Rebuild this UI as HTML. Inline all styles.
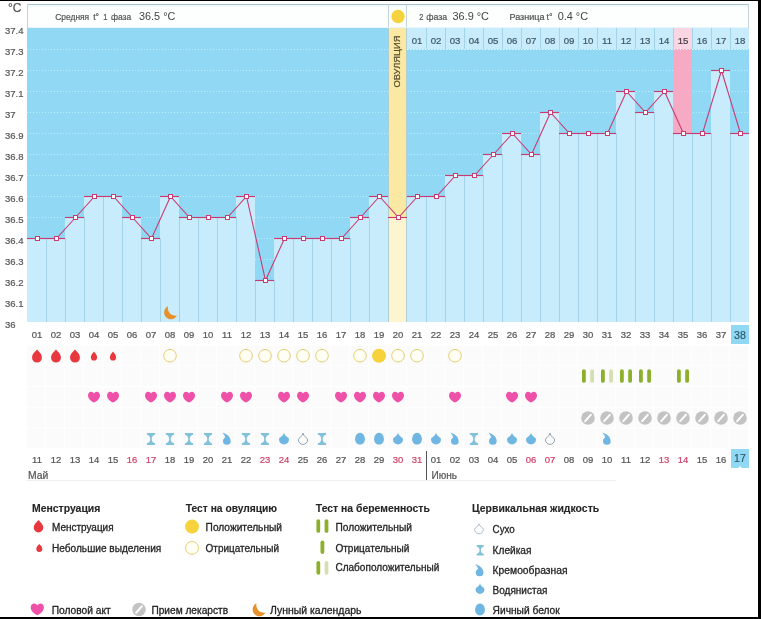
<!DOCTYPE html>
<html><head><meta charset="utf-8"><style>
html,body{margin:0;padding:0;background:#fff;width:761px;height:619px;overflow:hidden;font-family:"Liberation Sans",sans-serif;}
</style></head><body>
<svg width="761" height="619" viewBox="0 0 761 619" style="position:absolute;left:0;top:0;will-change:transform" font-family="'Liberation Sans', sans-serif">
<rect x="27" y="28" width="722" height="294" fill="#90d8f3"/>
<line x1="27" y1="49.5" x2="749" y2="49.5" stroke="#b8f0fd" stroke-width="1" stroke-dasharray="1 2"/>
<line x1="27" y1="70.5" x2="749" y2="70.5" stroke="#b8f0fd" stroke-width="1" stroke-dasharray="1 2"/>
<line x1="27" y1="91.5" x2="749" y2="91.5" stroke="#b8f0fd" stroke-width="1" stroke-dasharray="1 2"/>
<line x1="27" y1="112.5" x2="749" y2="112.5" stroke="#b8f0fd" stroke-width="1" stroke-dasharray="1 2"/>
<line x1="27" y1="133.5" x2="749" y2="133.5" stroke="#b8f0fd" stroke-width="1" stroke-dasharray="1 2"/>
<line x1="27" y1="154.5" x2="749" y2="154.5" stroke="#b8f0fd" stroke-width="1" stroke-dasharray="1 2"/>
<line x1="27" y1="175.5" x2="749" y2="175.5" stroke="#b8f0fd" stroke-width="1" stroke-dasharray="1 2"/>
<line x1="27" y1="196.5" x2="749" y2="196.5" stroke="#b8f0fd" stroke-width="1" stroke-dasharray="1 2"/>
<line x1="27" y1="217.5" x2="749" y2="217.5" stroke="#b8f0fd" stroke-width="1" stroke-dasharray="1 2"/>
<line x1="27" y1="238.5" x2="749" y2="238.5" stroke="#b8f0fd" stroke-width="1" stroke-dasharray="1 2"/>
<line x1="27" y1="259.5" x2="749" y2="259.5" stroke="#b8f0fd" stroke-width="1" stroke-dasharray="1 2"/>
<line x1="27" y1="280.5" x2="749" y2="280.5" stroke="#b8f0fd" stroke-width="1" stroke-dasharray="1 2"/>
<line x1="27" y1="301.5" x2="749" y2="301.5" stroke="#b8f0fd" stroke-width="1" stroke-dasharray="1 2"/>
<rect x="27" y="238" width="19" height="84" fill="#c9ecfc"/>
<rect x="46" y="238" width="19" height="84" fill="#c9ecfc"/>
<rect x="65" y="217" width="19" height="105" fill="#c9ecfc"/>
<rect x="84" y="196" width="19" height="126" fill="#c9ecfc"/>
<rect x="103" y="196" width="19" height="126" fill="#c9ecfc"/>
<rect x="122" y="217" width="19" height="105" fill="#c9ecfc"/>
<rect x="141" y="238" width="19" height="84" fill="#c9ecfc"/>
<rect x="160" y="196" width="19" height="126" fill="#c9ecfc"/>
<rect x="179" y="217" width="19" height="105" fill="#c9ecfc"/>
<rect x="198" y="217" width="19" height="105" fill="#c9ecfc"/>
<rect x="217" y="217" width="19" height="105" fill="#c9ecfc"/>
<rect x="236" y="196" width="19" height="126" fill="#c9ecfc"/>
<rect x="255" y="280" width="19" height="42" fill="#c9ecfc"/>
<rect x="274" y="238" width="19" height="84" fill="#c9ecfc"/>
<rect x="293" y="238" width="19" height="84" fill="#c9ecfc"/>
<rect x="312" y="238" width="19" height="84" fill="#c9ecfc"/>
<rect x="331" y="238" width="19" height="84" fill="#c9ecfc"/>
<rect x="350" y="217" width="19" height="105" fill="#c9ecfc"/>
<rect x="369" y="196" width="19" height="126" fill="#c9ecfc"/>
<rect x="388" y="28" width="19" height="189" fill="#fbe8a2"/>
<rect x="388" y="217" width="19" height="105" fill="#fdf5d0"/>
<rect x="407" y="196" width="19" height="126" fill="#c9ecfc"/>
<rect x="426" y="196" width="19" height="126" fill="#c9ecfc"/>
<rect x="445" y="175" width="19" height="147" fill="#c9ecfc"/>
<rect x="464" y="175" width="19" height="147" fill="#c9ecfc"/>
<rect x="483" y="154" width="19" height="168" fill="#c9ecfc"/>
<rect x="502" y="133" width="19" height="189" fill="#c9ecfc"/>
<rect x="521" y="154" width="19" height="168" fill="#c9ecfc"/>
<rect x="540" y="112" width="19" height="210" fill="#c9ecfc"/>
<rect x="559" y="133" width="19" height="189" fill="#c9ecfc"/>
<rect x="578" y="133" width="19" height="189" fill="#c9ecfc"/>
<rect x="597" y="133" width="19" height="189" fill="#c9ecfc"/>
<rect x="616" y="91" width="19" height="231" fill="#c9ecfc"/>
<rect x="635" y="112" width="19" height="210" fill="#c9ecfc"/>
<rect x="654" y="91" width="19" height="231" fill="#c9ecfc"/>
<rect x="673" y="49" width="19" height="84" fill="#f6aac3"/>
<rect x="673" y="133" width="19" height="189" fill="#c9ecfc"/>
<rect x="692" y="133" width="19" height="189" fill="#c9ecfc"/>
<rect x="711" y="70" width="19" height="252" fill="#c9ecfc"/>
<rect x="730" y="133" width="19" height="189" fill="#c9ecfc"/>
<line x1="46.5" y1="238" x2="46.5" y2="322" stroke="#a3d3e8" stroke-width="1"/>
<line x1="65.5" y1="238" x2="65.5" y2="322" stroke="#a3d3e8" stroke-width="1"/>
<line x1="84.5" y1="217" x2="84.5" y2="322" stroke="#a3d3e8" stroke-width="1"/>
<line x1="103.5" y1="196" x2="103.5" y2="322" stroke="#a3d3e8" stroke-width="1"/>
<line x1="122.5" y1="217" x2="122.5" y2="322" stroke="#a3d3e8" stroke-width="1"/>
<line x1="141.5" y1="238" x2="141.5" y2="322" stroke="#a3d3e8" stroke-width="1"/>
<line x1="160.5" y1="238" x2="160.5" y2="322" stroke="#a3d3e8" stroke-width="1"/>
<line x1="179.5" y1="217" x2="179.5" y2="322" stroke="#a3d3e8" stroke-width="1"/>
<line x1="198.5" y1="217" x2="198.5" y2="322" stroke="#a3d3e8" stroke-width="1"/>
<line x1="217.5" y1="217" x2="217.5" y2="322" stroke="#a3d3e8" stroke-width="1"/>
<line x1="236.5" y1="217" x2="236.5" y2="322" stroke="#a3d3e8" stroke-width="1"/>
<line x1="255.5" y1="280" x2="255.5" y2="322" stroke="#a3d3e8" stroke-width="1"/>
<line x1="274.5" y1="280" x2="274.5" y2="322" stroke="#a3d3e8" stroke-width="1"/>
<line x1="293.5" y1="238" x2="293.5" y2="322" stroke="#a3d3e8" stroke-width="1"/>
<line x1="312.5" y1="238" x2="312.5" y2="322" stroke="#a3d3e8" stroke-width="1"/>
<line x1="331.5" y1="238" x2="331.5" y2="322" stroke="#a3d3e8" stroke-width="1"/>
<line x1="350.5" y1="238" x2="350.5" y2="322" stroke="#a3d3e8" stroke-width="1"/>
<line x1="369.5" y1="217" x2="369.5" y2="322" stroke="#a3d3e8" stroke-width="1"/>
<line x1="426.5" y1="196" x2="426.5" y2="322" stroke="#a3d3e8" stroke-width="1"/>
<line x1="445.5" y1="196" x2="445.5" y2="322" stroke="#a3d3e8" stroke-width="1"/>
<line x1="464.5" y1="175" x2="464.5" y2="322" stroke="#a3d3e8" stroke-width="1"/>
<line x1="483.5" y1="175" x2="483.5" y2="322" stroke="#a3d3e8" stroke-width="1"/>
<line x1="502.5" y1="154" x2="502.5" y2="322" stroke="#a3d3e8" stroke-width="1"/>
<line x1="521.5" y1="154" x2="521.5" y2="322" stroke="#a3d3e8" stroke-width="1"/>
<line x1="540.5" y1="154" x2="540.5" y2="322" stroke="#a3d3e8" stroke-width="1"/>
<line x1="559.5" y1="133" x2="559.5" y2="322" stroke="#a3d3e8" stroke-width="1"/>
<line x1="578.5" y1="133" x2="578.5" y2="322" stroke="#a3d3e8" stroke-width="1"/>
<line x1="597.5" y1="133" x2="597.5" y2="322" stroke="#a3d3e8" stroke-width="1"/>
<line x1="616.5" y1="133" x2="616.5" y2="322" stroke="#a3d3e8" stroke-width="1"/>
<line x1="635.5" y1="112" x2="635.5" y2="322" stroke="#a3d3e8" stroke-width="1"/>
<line x1="654.5" y1="112" x2="654.5" y2="322" stroke="#a3d3e8" stroke-width="1"/>
<line x1="673.5" y1="133" x2="673.5" y2="322" stroke="#a3d3e8" stroke-width="1"/>
<line x1="692.5" y1="133" x2="692.5" y2="322" stroke="#a3d3e8" stroke-width="1"/>
<line x1="711.5" y1="133" x2="711.5" y2="322" stroke="#a3d3e8" stroke-width="1"/>
<line x1="730.5" y1="133" x2="730.5" y2="322" stroke="#a3d3e8" stroke-width="1"/>
<line x1="388.5" y1="28" x2="388.5" y2="322" stroke="#b2cdd2" stroke-width="1"/>
<line x1="406.5" y1="28" x2="406.5" y2="322" stroke="#b2cdd2" stroke-width="1"/>
<rect x="407" y="28" width="19" height="21" fill="#c9ecfc"/>
<text x="417.0" y="44" font-size="9.6" fill="#3e5868" text-anchor="middle" stroke="#3e5868" stroke-width="0.22">01</text>
<rect x="426" y="28" width="19" height="21" fill="#c9ecfc"/>
<line x1="426.5" y1="28" x2="426.5" y2="49" stroke="#a3d3e8" stroke-width="1"/>
<text x="436.0" y="44" font-size="9.6" fill="#3e5868" text-anchor="middle" stroke="#3e5868" stroke-width="0.22">02</text>
<rect x="445" y="28" width="19" height="21" fill="#c9ecfc"/>
<line x1="445.5" y1="28" x2="445.5" y2="49" stroke="#a3d3e8" stroke-width="1"/>
<text x="455.0" y="44" font-size="9.6" fill="#3e5868" text-anchor="middle" stroke="#3e5868" stroke-width="0.22">03</text>
<rect x="464" y="28" width="19" height="21" fill="#c9ecfc"/>
<line x1="464.5" y1="28" x2="464.5" y2="49" stroke="#a3d3e8" stroke-width="1"/>
<text x="474.0" y="44" font-size="9.6" fill="#3e5868" text-anchor="middle" stroke="#3e5868" stroke-width="0.22">04</text>
<rect x="483" y="28" width="19" height="21" fill="#c9ecfc"/>
<line x1="483.5" y1="28" x2="483.5" y2="49" stroke="#a3d3e8" stroke-width="1"/>
<text x="493.0" y="44" font-size="9.6" fill="#3e5868" text-anchor="middle" stroke="#3e5868" stroke-width="0.22">05</text>
<rect x="502" y="28" width="19" height="21" fill="#c9ecfc"/>
<line x1="502.5" y1="28" x2="502.5" y2="49" stroke="#a3d3e8" stroke-width="1"/>
<text x="512.0" y="44" font-size="9.6" fill="#3e5868" text-anchor="middle" stroke="#3e5868" stroke-width="0.22">06</text>
<rect x="521" y="28" width="19" height="21" fill="#c9ecfc"/>
<line x1="521.5" y1="28" x2="521.5" y2="49" stroke="#a3d3e8" stroke-width="1"/>
<text x="531.0" y="44" font-size="9.6" fill="#3e5868" text-anchor="middle" stroke="#3e5868" stroke-width="0.22">07</text>
<rect x="540" y="28" width="19" height="21" fill="#c9ecfc"/>
<line x1="540.5" y1="28" x2="540.5" y2="49" stroke="#a3d3e8" stroke-width="1"/>
<text x="550.0" y="44" font-size="9.6" fill="#3e5868" text-anchor="middle" stroke="#3e5868" stroke-width="0.22">08</text>
<rect x="559" y="28" width="19" height="21" fill="#c9ecfc"/>
<line x1="559.5" y1="28" x2="559.5" y2="49" stroke="#a3d3e8" stroke-width="1"/>
<text x="569.0" y="44" font-size="9.6" fill="#3e5868" text-anchor="middle" stroke="#3e5868" stroke-width="0.22">09</text>
<rect x="578" y="28" width="19" height="21" fill="#c9ecfc"/>
<line x1="578.5" y1="28" x2="578.5" y2="49" stroke="#a3d3e8" stroke-width="1"/>
<text x="588.0" y="44" font-size="9.6" fill="#3e5868" text-anchor="middle" stroke="#3e5868" stroke-width="0.22">10</text>
<rect x="597" y="28" width="19" height="21" fill="#c9ecfc"/>
<line x1="597.5" y1="28" x2="597.5" y2="49" stroke="#a3d3e8" stroke-width="1"/>
<text x="607.0" y="44" font-size="9.6" fill="#3e5868" text-anchor="middle" stroke="#3e5868" stroke-width="0.22">11</text>
<rect x="616" y="28" width="19" height="21" fill="#c9ecfc"/>
<line x1="616.5" y1="28" x2="616.5" y2="49" stroke="#a3d3e8" stroke-width="1"/>
<text x="626.0" y="44" font-size="9.6" fill="#3e5868" text-anchor="middle" stroke="#3e5868" stroke-width="0.22">12</text>
<rect x="635" y="28" width="19" height="21" fill="#c9ecfc"/>
<line x1="635.5" y1="28" x2="635.5" y2="49" stroke="#a3d3e8" stroke-width="1"/>
<text x="645.0" y="44" font-size="9.6" fill="#3e5868" text-anchor="middle" stroke="#3e5868" stroke-width="0.22">13</text>
<rect x="654" y="28" width="19" height="21" fill="#c9ecfc"/>
<line x1="654.5" y1="28" x2="654.5" y2="49" stroke="#a3d3e8" stroke-width="1"/>
<text x="664.0" y="44" font-size="9.6" fill="#3e5868" text-anchor="middle" stroke="#3e5868" stroke-width="0.22">14</text>
<rect x="673" y="28" width="19" height="21" fill="#f9d6e2"/>
<line x1="673.5" y1="28" x2="673.5" y2="49" stroke="#a3d3e8" stroke-width="1"/>
<text x="683.0" y="44" font-size="9.6" fill="#4a3c46" text-anchor="middle" stroke="#4a3c46" stroke-width="0.22">15</text>
<rect x="692" y="28" width="19" height="21" fill="#c9ecfc"/>
<line x1="692.5" y1="28" x2="692.5" y2="49" stroke="#a3d3e8" stroke-width="1"/>
<text x="702.0" y="44" font-size="9.6" fill="#3e5868" text-anchor="middle" stroke="#3e5868" stroke-width="0.22">16</text>
<rect x="711" y="28" width="19" height="21" fill="#c9ecfc"/>
<line x1="711.5" y1="28" x2="711.5" y2="49" stroke="#a3d3e8" stroke-width="1"/>
<text x="721.0" y="44" font-size="9.6" fill="#3e5868" text-anchor="middle" stroke="#3e5868" stroke-width="0.22">17</text>
<rect x="730" y="28" width="19" height="21" fill="#c9ecfc"/>
<line x1="730.5" y1="28" x2="730.5" y2="49" stroke="#a3d3e8" stroke-width="1"/>
<text x="740.0" y="44" font-size="9.6" fill="#3e5868" text-anchor="middle" stroke="#3e5868" stroke-width="0.22">18</text>
<line x1="407" y1="49.5" x2="749" y2="49.5" stroke="#e6f7fd" stroke-width="1" stroke-dasharray="1 2"/>
<text transform="translate(400.4,61.6) rotate(-90)" font-size="9" fill="#5b5135" text-anchor="middle" textLength="52" lengthAdjust="spacingAndGlyphs" stroke="#5b5135" stroke-width="0.22">ОВУЛЯЦИЯ</text>
<line x1="27" y1="238.5" x2="46" y2="238.5" stroke="#c83c72" stroke-width="1.15"/>
<line x1="46" y1="238.5" x2="65" y2="238.5" stroke="#c83c72" stroke-width="1.15"/>
<line x1="65" y1="217.5" x2="84" y2="217.5" stroke="#c83c72" stroke-width="1.15"/>
<line x1="84" y1="196.5" x2="103" y2="196.5" stroke="#c83c72" stroke-width="1.15"/>
<line x1="103" y1="196.5" x2="122" y2="196.5" stroke="#c83c72" stroke-width="1.15"/>
<line x1="122" y1="217.5" x2="141" y2="217.5" stroke="#c83c72" stroke-width="1.15"/>
<line x1="141" y1="238.5" x2="160" y2="238.5" stroke="#c83c72" stroke-width="1.15"/>
<line x1="160" y1="196.5" x2="179" y2="196.5" stroke="#c83c72" stroke-width="1.15"/>
<line x1="179" y1="217.5" x2="198" y2="217.5" stroke="#c83c72" stroke-width="1.15"/>
<line x1="198" y1="217.5" x2="217" y2="217.5" stroke="#c83c72" stroke-width="1.15"/>
<line x1="217" y1="217.5" x2="236" y2="217.5" stroke="#c83c72" stroke-width="1.15"/>
<line x1="236" y1="196.5" x2="255" y2="196.5" stroke="#c83c72" stroke-width="1.15"/>
<line x1="255" y1="280.5" x2="274" y2="280.5" stroke="#c83c72" stroke-width="1.15"/>
<line x1="274" y1="238.5" x2="293" y2="238.5" stroke="#c83c72" stroke-width="1.15"/>
<line x1="293" y1="238.5" x2="312" y2="238.5" stroke="#c83c72" stroke-width="1.15"/>
<line x1="312" y1="238.5" x2="331" y2="238.5" stroke="#c83c72" stroke-width="1.15"/>
<line x1="331" y1="238.5" x2="350" y2="238.5" stroke="#c83c72" stroke-width="1.15"/>
<line x1="350" y1="217.5" x2="369" y2="217.5" stroke="#c83c72" stroke-width="1.15"/>
<line x1="369" y1="196.5" x2="388" y2="196.5" stroke="#c83c72" stroke-width="1.15"/>
<line x1="388" y1="217.5" x2="407" y2="217.5" stroke="#c83c72" stroke-width="1.15"/>
<line x1="407" y1="196.5" x2="426" y2="196.5" stroke="#c83c72" stroke-width="1.15"/>
<line x1="426" y1="196.5" x2="445" y2="196.5" stroke="#c83c72" stroke-width="1.15"/>
<line x1="445" y1="175.5" x2="464" y2="175.5" stroke="#c83c72" stroke-width="1.15"/>
<line x1="464" y1="175.5" x2="483" y2="175.5" stroke="#c83c72" stroke-width="1.15"/>
<line x1="483" y1="154.5" x2="502" y2="154.5" stroke="#c83c72" stroke-width="1.15"/>
<line x1="502" y1="133.5" x2="521" y2="133.5" stroke="#c83c72" stroke-width="1.15"/>
<line x1="521" y1="154.5" x2="540" y2="154.5" stroke="#c83c72" stroke-width="1.15"/>
<line x1="540" y1="112.5" x2="559" y2="112.5" stroke="#c83c72" stroke-width="1.15"/>
<line x1="559" y1="133.5" x2="578" y2="133.5" stroke="#c83c72" stroke-width="1.15"/>
<line x1="578" y1="133.5" x2="597" y2="133.5" stroke="#c83c72" stroke-width="1.15"/>
<line x1="597" y1="133.5" x2="616" y2="133.5" stroke="#c83c72" stroke-width="1.15"/>
<line x1="616" y1="91.5" x2="635" y2="91.5" stroke="#c83c72" stroke-width="1.15"/>
<line x1="635" y1="112.5" x2="654" y2="112.5" stroke="#c83c72" stroke-width="1.15"/>
<line x1="654" y1="91.5" x2="673" y2="91.5" stroke="#c83c72" stroke-width="1.15"/>
<line x1="673" y1="133.5" x2="692" y2="133.5" stroke="#c83c72" stroke-width="1.15"/>
<line x1="692" y1="133.5" x2="711" y2="133.5" stroke="#c83c72" stroke-width="1.15"/>
<line x1="711" y1="70.5" x2="730" y2="70.5" stroke="#c83c72" stroke-width="1.15"/>
<line x1="730" y1="133.5" x2="749" y2="133.5" stroke="#c83c72" stroke-width="1.15"/>
<polyline points="37.5,238.5 56.5,238.5 75.5,217.5 94.5,196.5 113.5,196.5 132.5,217.5 151.5,238.5 170.5,196.5 189.5,217.5 208.5,217.5 227.5,217.5 246.5,196.5 265.5,280.5 284.5,238.5 303.5,238.5 322.5,238.5 341.5,238.5 360.5,217.5 379.5,196.5 398.5,217.5 417.5,196.5 436.5,196.5 455.5,175.5 474.5,175.5 493.5,154.5 512.5,133.5 531.5,154.5 550.5,112.5 569.5,133.5 588.5,133.5 607.5,133.5 626.5,91.5 645.5,112.5 664.5,91.5 683.5,133.5 702.5,133.5 721.5,70.5 740.5,133.5" fill="none" stroke="#c83c72" stroke-width="1.1"/>
<rect x="35.5" y="236.5" width="4" height="4" fill="#fff" stroke="#c83c72" stroke-width="1"/>
<rect x="54.5" y="236.5" width="4" height="4" fill="#fff" stroke="#c83c72" stroke-width="1"/>
<rect x="73.5" y="215.5" width="4" height="4" fill="#fff" stroke="#c83c72" stroke-width="1"/>
<rect x="92.5" y="194.5" width="4" height="4" fill="#fff" stroke="#c83c72" stroke-width="1"/>
<rect x="111.5" y="194.5" width="4" height="4" fill="#fff" stroke="#c83c72" stroke-width="1"/>
<rect x="130.5" y="215.5" width="4" height="4" fill="#fff" stroke="#c83c72" stroke-width="1"/>
<rect x="149.5" y="236.5" width="4" height="4" fill="#fff" stroke="#c83c72" stroke-width="1"/>
<rect x="168.5" y="194.5" width="4" height="4" fill="#fff" stroke="#c83c72" stroke-width="1"/>
<rect x="187.5" y="215.5" width="4" height="4" fill="#fff" stroke="#c83c72" stroke-width="1"/>
<rect x="206.5" y="215.5" width="4" height="4" fill="#fff" stroke="#c83c72" stroke-width="1"/>
<rect x="225.5" y="215.5" width="4" height="4" fill="#fff" stroke="#c83c72" stroke-width="1"/>
<rect x="244.5" y="194.5" width="4" height="4" fill="#fff" stroke="#c83c72" stroke-width="1"/>
<rect x="263.5" y="278.5" width="4" height="4" fill="#fff" stroke="#c83c72" stroke-width="1"/>
<rect x="282.5" y="236.5" width="4" height="4" fill="#fff" stroke="#c83c72" stroke-width="1"/>
<rect x="301.5" y="236.5" width="4" height="4" fill="#fff" stroke="#c83c72" stroke-width="1"/>
<rect x="320.5" y="236.5" width="4" height="4" fill="#fff" stroke="#c83c72" stroke-width="1"/>
<rect x="339.5" y="236.5" width="4" height="4" fill="#fff" stroke="#c83c72" stroke-width="1"/>
<rect x="358.5" y="215.5" width="4" height="4" fill="#fff" stroke="#c83c72" stroke-width="1"/>
<rect x="377.5" y="194.5" width="4" height="4" fill="#fff" stroke="#c83c72" stroke-width="1"/>
<rect x="396.5" y="215.5" width="4" height="4" fill="#fff" stroke="#c83c72" stroke-width="1"/>
<rect x="415.5" y="194.5" width="4" height="4" fill="#fff" stroke="#c83c72" stroke-width="1"/>
<rect x="434.5" y="194.5" width="4" height="4" fill="#fff" stroke="#c83c72" stroke-width="1"/>
<rect x="453.5" y="173.5" width="4" height="4" fill="#fff" stroke="#c83c72" stroke-width="1"/>
<rect x="472.5" y="173.5" width="4" height="4" fill="#fff" stroke="#c83c72" stroke-width="1"/>
<rect x="491.5" y="152.5" width="4" height="4" fill="#fff" stroke="#c83c72" stroke-width="1"/>
<rect x="510.5" y="131.5" width="4" height="4" fill="#fff" stroke="#c83c72" stroke-width="1"/>
<rect x="529.5" y="152.5" width="4" height="4" fill="#fff" stroke="#c83c72" stroke-width="1"/>
<rect x="548.5" y="110.5" width="4" height="4" fill="#fff" stroke="#c83c72" stroke-width="1"/>
<rect x="567.5" y="131.5" width="4" height="4" fill="#fff" stroke="#c83c72" stroke-width="1"/>
<rect x="586.5" y="131.5" width="4" height="4" fill="#fff" stroke="#c83c72" stroke-width="1"/>
<rect x="605.5" y="131.5" width="4" height="4" fill="#fff" stroke="#c83c72" stroke-width="1"/>
<rect x="624.5" y="89.5" width="4" height="4" fill="#fff" stroke="#c83c72" stroke-width="1"/>
<rect x="643.5" y="110.5" width="4" height="4" fill="#fff" stroke="#c83c72" stroke-width="1"/>
<rect x="662.5" y="89.5" width="4" height="4" fill="#fff" stroke="#c83c72" stroke-width="1"/>
<rect x="681.5" y="131.5" width="4" height="4" fill="#fff" stroke="#c83c72" stroke-width="1"/>
<rect x="700.5" y="131.5" width="4" height="4" fill="#fff" stroke="#c83c72" stroke-width="1"/>
<rect x="719.5" y="68.5" width="4" height="4" fill="#fff" stroke="#c83c72" stroke-width="1"/>
<rect x="738.5" y="131.5" width="4" height="4" fill="#fff" stroke="#c83c72" stroke-width="1"/>
<path transform="translate(170.5,313) scale(1.0)" d="M-2.5,-6.7 A6.8,6.8 0 1,0 6.5,2.5 A7.6,7.6 0 0,1 -2.5,-6.7 Z" fill="#e8912a"/>
<rect x="27" y="4" width="722" height="24" fill="#fdfefe"/>
<rect x="28" y="5" width="720" height="2" fill="#f2fbfd"/>
<line x1="27" y1="4.5" x2="749" y2="4.5" stroke="#a9c1c6" stroke-width="1"/>
<line x1="27.5" y1="4" x2="27.5" y2="28" stroke="#c2d6da" stroke-width="1"/>
<line x1="388.5" y1="4" x2="388.5" y2="28" stroke="#c2d6da" stroke-width="1"/>
<line x1="406.5" y1="4" x2="406.5" y2="28" stroke="#c2d6da" stroke-width="1"/>
<line x1="748.5" y1="4" x2="748.5" y2="28" stroke="#c2d6da" stroke-width="1"/>
<line x1="28" y1="27.5" x2="748" y2="27.5" stroke="#e6f6fa" stroke-width="1"/>
<circle cx="398" cy="16.5" r="6.7" fill="#f6d33c"/>
<text x="55.2" y="20" font-size="9.5" fill="#555" textLength="34.0" lengthAdjust="spacingAndGlyphs" stroke="#555" stroke-width="0.22">Средняя</text>
<text x="93.2" y="20" font-size="9.5" fill="#555" textLength="5.9" lengthAdjust="spacingAndGlyphs" stroke="#555" stroke-width="0.22">t°</text>
<text x="103.3" y="20" font-size="9.5" fill="#555" textLength="4.3" lengthAdjust="spacingAndGlyphs" stroke="#555" stroke-width="0.22">1</text>
<text x="110.9" y="20" font-size="9.5" fill="#555" textLength="20.3" lengthAdjust="spacingAndGlyphs" stroke="#555" stroke-width="0.22">фаза</text>
<text x="139" y="20.3" font-size="10.7" fill="#444" textLength="36.4" lengthAdjust="spacingAndGlyphs" stroke="none">36.5 °C</text>
<text x="419.2" y="20" font-size="9.5" fill="#555" textLength="4.2" lengthAdjust="spacingAndGlyphs" stroke="#555" stroke-width="0.22">2</text>
<text x="426.3" y="20" font-size="9.5" fill="#555" textLength="20.9" lengthAdjust="spacingAndGlyphs" stroke="#555" stroke-width="0.22">фаза</text>
<text x="452.5" y="20.3" font-size="10.7" fill="#444" textLength="36.5" lengthAdjust="spacingAndGlyphs" stroke="none">36.9 °C</text>
<text x="509.4" y="20" font-size="9.5" fill="#555" textLength="35.2" lengthAdjust="spacingAndGlyphs" stroke="#555" stroke-width="0.22">Разница</text>
<text x="546.6" y="20" font-size="9.5" fill="#555" textLength="6.0" lengthAdjust="spacingAndGlyphs" stroke="#555" stroke-width="0.22">t°</text>
<text x="557.7" y="20.3" font-size="10.7" fill="#444" textLength="30.4" lengthAdjust="spacingAndGlyphs" stroke="none">0.4 °C</text>
<text x="8" y="12" font-size="12" fill="#555" stroke="#555" stroke-width="0.22">°C</text>
<text x="5" y="34" font-size="9.5" fill="#585858" stroke="#585858" stroke-width="0.22">37.4</text>
<text x="5" y="55" font-size="9.5" fill="#585858" stroke="#585858" stroke-width="0.22">37.3</text>
<text x="5" y="76" font-size="9.5" fill="#585858" stroke="#585858" stroke-width="0.22">37.2</text>
<text x="5" y="97" font-size="9.5" fill="#585858" stroke="#585858" stroke-width="0.22">37.1</text>
<text x="5" y="118" font-size="9.5" fill="#585858" stroke="#585858" stroke-width="0.22">37</text>
<text x="5" y="139" font-size="9.5" fill="#585858" stroke="#585858" stroke-width="0.22">36.9</text>
<text x="5" y="160" font-size="9.5" fill="#585858" stroke="#585858" stroke-width="0.22">36.8</text>
<text x="5" y="181" font-size="9.5" fill="#585858" stroke="#585858" stroke-width="0.22">36.7</text>
<text x="5" y="202" font-size="9.5" fill="#585858" stroke="#585858" stroke-width="0.22">36.6</text>
<text x="5" y="223" font-size="9.5" fill="#585858" stroke="#585858" stroke-width="0.22">36.5</text>
<text x="5" y="244" font-size="9.5" fill="#585858" stroke="#585858" stroke-width="0.22">36.4</text>
<text x="5" y="265" font-size="9.5" fill="#585858" stroke="#585858" stroke-width="0.22">36.3</text>
<text x="5" y="286" font-size="9.5" fill="#585858" stroke="#585858" stroke-width="0.22">36.2</text>
<text x="5" y="307" font-size="9.5" fill="#585858" stroke="#585858" stroke-width="0.22">36.1</text>
<text x="5" y="328" font-size="9.5" fill="#585858" stroke="#585858" stroke-width="0.22">36</text>
<rect x="27" y="345.7" width="18" height="19.7" fill="#fbfbfb"/>
<rect x="46" y="345.7" width="18" height="19.7" fill="#fbfbfb"/>
<rect x="65" y="345.7" width="18" height="19.7" fill="#fbfbfb"/>
<rect x="84" y="345.7" width="18" height="19.7" fill="#fbfbfb"/>
<rect x="103" y="345.7" width="18" height="19.7" fill="#fbfbfb"/>
<rect x="122" y="345.7" width="18" height="19.7" fill="#fbfbfb"/>
<rect x="141" y="345.7" width="18" height="19.7" fill="#fbfbfb"/>
<rect x="160" y="345.7" width="18" height="19.7" fill="#fbfbfb"/>
<rect x="179" y="345.7" width="18" height="19.7" fill="#fbfbfb"/>
<rect x="198" y="345.7" width="18" height="19.7" fill="#fbfbfb"/>
<rect x="217" y="345.7" width="18" height="19.7" fill="#fbfbfb"/>
<rect x="236" y="345.7" width="18" height="19.7" fill="#fbfbfb"/>
<rect x="255" y="345.7" width="18" height="19.7" fill="#fbfbfb"/>
<rect x="274" y="345.7" width="18" height="19.7" fill="#fbfbfb"/>
<rect x="293" y="345.7" width="18" height="19.7" fill="#fbfbfb"/>
<rect x="312" y="345.7" width="18" height="19.7" fill="#fbfbfb"/>
<rect x="331" y="345.7" width="18" height="19.7" fill="#fbfbfb"/>
<rect x="350" y="345.7" width="18" height="19.7" fill="#fbfbfb"/>
<rect x="369" y="345.7" width="18" height="19.7" fill="#fbfbfb"/>
<rect x="388" y="345.7" width="18" height="19.7" fill="#fbfbfb"/>
<rect x="407" y="345.7" width="18" height="19.7" fill="#fbfbfb"/>
<rect x="426" y="345.7" width="18" height="19.7" fill="#fbfbfb"/>
<rect x="445" y="345.7" width="18" height="19.7" fill="#fbfbfb"/>
<rect x="464" y="345.7" width="18" height="19.7" fill="#fbfbfb"/>
<rect x="483" y="345.7" width="18" height="19.7" fill="#fbfbfb"/>
<rect x="502" y="345.7" width="18" height="19.7" fill="#fbfbfb"/>
<rect x="521" y="345.7" width="18" height="19.7" fill="#fbfbfb"/>
<rect x="540" y="345.7" width="18" height="19.7" fill="#fbfbfb"/>
<rect x="559" y="345.7" width="18" height="19.7" fill="#fbfbfb"/>
<rect x="578" y="345.7" width="18" height="19.7" fill="#fbfbfb"/>
<rect x="597" y="345.7" width="18" height="19.7" fill="#fbfbfb"/>
<rect x="616" y="345.7" width="18" height="19.7" fill="#fbfbfb"/>
<rect x="635" y="345.7" width="18" height="19.7" fill="#fbfbfb"/>
<rect x="654" y="345.7" width="18" height="19.7" fill="#fbfbfb"/>
<rect x="673" y="345.7" width="18" height="19.7" fill="#fbfbfb"/>
<rect x="692" y="345.7" width="18" height="19.7" fill="#fbfbfb"/>
<rect x="711" y="345.7" width="18" height="19.7" fill="#fbfbfb"/>
<rect x="730" y="345.7" width="18" height="19.7" fill="#fbfbfb"/>
<rect x="27" y="366.4" width="18" height="19.7" fill="#fbfbfb"/>
<rect x="46" y="366.4" width="18" height="19.7" fill="#fbfbfb"/>
<rect x="65" y="366.4" width="18" height="19.7" fill="#fbfbfb"/>
<rect x="84" y="366.4" width="18" height="19.7" fill="#fbfbfb"/>
<rect x="103" y="366.4" width="18" height="19.7" fill="#fbfbfb"/>
<rect x="122" y="366.4" width="18" height="19.7" fill="#fbfbfb"/>
<rect x="141" y="366.4" width="18" height="19.7" fill="#fbfbfb"/>
<rect x="160" y="366.4" width="18" height="19.7" fill="#fbfbfb"/>
<rect x="179" y="366.4" width="18" height="19.7" fill="#fbfbfb"/>
<rect x="198" y="366.4" width="18" height="19.7" fill="#fbfbfb"/>
<rect x="217" y="366.4" width="18" height="19.7" fill="#fbfbfb"/>
<rect x="236" y="366.4" width="18" height="19.7" fill="#fbfbfb"/>
<rect x="255" y="366.4" width="18" height="19.7" fill="#fbfbfb"/>
<rect x="274" y="366.4" width="18" height="19.7" fill="#fbfbfb"/>
<rect x="293" y="366.4" width="18" height="19.7" fill="#fbfbfb"/>
<rect x="312" y="366.4" width="18" height="19.7" fill="#fbfbfb"/>
<rect x="331" y="366.4" width="18" height="19.7" fill="#fbfbfb"/>
<rect x="350" y="366.4" width="18" height="19.7" fill="#fbfbfb"/>
<rect x="369" y="366.4" width="18" height="19.7" fill="#fbfbfb"/>
<rect x="388" y="366.4" width="18" height="19.7" fill="#fbfbfb"/>
<rect x="407" y="366.4" width="18" height="19.7" fill="#fbfbfb"/>
<rect x="426" y="366.4" width="18" height="19.7" fill="#fbfbfb"/>
<rect x="445" y="366.4" width="18" height="19.7" fill="#fbfbfb"/>
<rect x="464" y="366.4" width="18" height="19.7" fill="#fbfbfb"/>
<rect x="483" y="366.4" width="18" height="19.7" fill="#fbfbfb"/>
<rect x="502" y="366.4" width="18" height="19.7" fill="#fbfbfb"/>
<rect x="521" y="366.4" width="18" height="19.7" fill="#fbfbfb"/>
<rect x="540" y="366.4" width="18" height="19.7" fill="#fbfbfb"/>
<rect x="559" y="366.4" width="18" height="19.7" fill="#fbfbfb"/>
<rect x="578" y="366.4" width="18" height="19.7" fill="#fbfbfb"/>
<rect x="597" y="366.4" width="18" height="19.7" fill="#fbfbfb"/>
<rect x="616" y="366.4" width="18" height="19.7" fill="#fbfbfb"/>
<rect x="635" y="366.4" width="18" height="19.7" fill="#fbfbfb"/>
<rect x="654" y="366.4" width="18" height="19.7" fill="#fbfbfb"/>
<rect x="673" y="366.4" width="18" height="19.7" fill="#fbfbfb"/>
<rect x="692" y="366.4" width="18" height="19.7" fill="#fbfbfb"/>
<rect x="711" y="366.4" width="18" height="19.7" fill="#fbfbfb"/>
<rect x="730" y="366.4" width="18" height="19.7" fill="#fbfbfb"/>
<rect x="27" y="387.1" width="18" height="19.7" fill="#fbfbfb"/>
<rect x="46" y="387.1" width="18" height="19.7" fill="#fbfbfb"/>
<rect x="65" y="387.1" width="18" height="19.7" fill="#fbfbfb"/>
<rect x="84" y="387.1" width="18" height="19.7" fill="#fbfbfb"/>
<rect x="103" y="387.1" width="18" height="19.7" fill="#fbfbfb"/>
<rect x="122" y="387.1" width="18" height="19.7" fill="#fbfbfb"/>
<rect x="141" y="387.1" width="18" height="19.7" fill="#fbfbfb"/>
<rect x="160" y="387.1" width="18" height="19.7" fill="#fbfbfb"/>
<rect x="179" y="387.1" width="18" height="19.7" fill="#fbfbfb"/>
<rect x="198" y="387.1" width="18" height="19.7" fill="#fbfbfb"/>
<rect x="217" y="387.1" width="18" height="19.7" fill="#fbfbfb"/>
<rect x="236" y="387.1" width="18" height="19.7" fill="#fbfbfb"/>
<rect x="255" y="387.1" width="18" height="19.7" fill="#fbfbfb"/>
<rect x="274" y="387.1" width="18" height="19.7" fill="#fbfbfb"/>
<rect x="293" y="387.1" width="18" height="19.7" fill="#fbfbfb"/>
<rect x="312" y="387.1" width="18" height="19.7" fill="#fbfbfb"/>
<rect x="331" y="387.1" width="18" height="19.7" fill="#fbfbfb"/>
<rect x="350" y="387.1" width="18" height="19.7" fill="#fbfbfb"/>
<rect x="369" y="387.1" width="18" height="19.7" fill="#fbfbfb"/>
<rect x="388" y="387.1" width="18" height="19.7" fill="#fbfbfb"/>
<rect x="407" y="387.1" width="18" height="19.7" fill="#fbfbfb"/>
<rect x="426" y="387.1" width="18" height="19.7" fill="#fbfbfb"/>
<rect x="445" y="387.1" width="18" height="19.7" fill="#fbfbfb"/>
<rect x="464" y="387.1" width="18" height="19.7" fill="#fbfbfb"/>
<rect x="483" y="387.1" width="18" height="19.7" fill="#fbfbfb"/>
<rect x="502" y="387.1" width="18" height="19.7" fill="#fbfbfb"/>
<rect x="521" y="387.1" width="18" height="19.7" fill="#fbfbfb"/>
<rect x="540" y="387.1" width="18" height="19.7" fill="#fbfbfb"/>
<rect x="559" y="387.1" width="18" height="19.7" fill="#fbfbfb"/>
<rect x="578" y="387.1" width="18" height="19.7" fill="#fbfbfb"/>
<rect x="597" y="387.1" width="18" height="19.7" fill="#fbfbfb"/>
<rect x="616" y="387.1" width="18" height="19.7" fill="#fbfbfb"/>
<rect x="635" y="387.1" width="18" height="19.7" fill="#fbfbfb"/>
<rect x="654" y="387.1" width="18" height="19.7" fill="#fbfbfb"/>
<rect x="673" y="387.1" width="18" height="19.7" fill="#fbfbfb"/>
<rect x="692" y="387.1" width="18" height="19.7" fill="#fbfbfb"/>
<rect x="711" y="387.1" width="18" height="19.7" fill="#fbfbfb"/>
<rect x="730" y="387.1" width="18" height="19.7" fill="#fbfbfb"/>
<rect x="27" y="407.8" width="18" height="19.7" fill="#fbfbfb"/>
<rect x="46" y="407.8" width="18" height="19.7" fill="#fbfbfb"/>
<rect x="65" y="407.8" width="18" height="19.7" fill="#fbfbfb"/>
<rect x="84" y="407.8" width="18" height="19.7" fill="#fbfbfb"/>
<rect x="103" y="407.8" width="18" height="19.7" fill="#fbfbfb"/>
<rect x="122" y="407.8" width="18" height="19.7" fill="#fbfbfb"/>
<rect x="141" y="407.8" width="18" height="19.7" fill="#fbfbfb"/>
<rect x="160" y="407.8" width="18" height="19.7" fill="#fbfbfb"/>
<rect x="179" y="407.8" width="18" height="19.7" fill="#fbfbfb"/>
<rect x="198" y="407.8" width="18" height="19.7" fill="#fbfbfb"/>
<rect x="217" y="407.8" width="18" height="19.7" fill="#fbfbfb"/>
<rect x="236" y="407.8" width="18" height="19.7" fill="#fbfbfb"/>
<rect x="255" y="407.8" width="18" height="19.7" fill="#fbfbfb"/>
<rect x="274" y="407.8" width="18" height="19.7" fill="#fbfbfb"/>
<rect x="293" y="407.8" width="18" height="19.7" fill="#fbfbfb"/>
<rect x="312" y="407.8" width="18" height="19.7" fill="#fbfbfb"/>
<rect x="331" y="407.8" width="18" height="19.7" fill="#fbfbfb"/>
<rect x="350" y="407.8" width="18" height="19.7" fill="#fbfbfb"/>
<rect x="369" y="407.8" width="18" height="19.7" fill="#fbfbfb"/>
<rect x="388" y="407.8" width="18" height="19.7" fill="#fbfbfb"/>
<rect x="407" y="407.8" width="18" height="19.7" fill="#fbfbfb"/>
<rect x="426" y="407.8" width="18" height="19.7" fill="#fbfbfb"/>
<rect x="445" y="407.8" width="18" height="19.7" fill="#fbfbfb"/>
<rect x="464" y="407.8" width="18" height="19.7" fill="#fbfbfb"/>
<rect x="483" y="407.8" width="18" height="19.7" fill="#fbfbfb"/>
<rect x="502" y="407.8" width="18" height="19.7" fill="#fbfbfb"/>
<rect x="521" y="407.8" width="18" height="19.7" fill="#fbfbfb"/>
<rect x="540" y="407.8" width="18" height="19.7" fill="#fbfbfb"/>
<rect x="559" y="407.8" width="18" height="19.7" fill="#fbfbfb"/>
<rect x="578" y="407.8" width="18" height="19.7" fill="#fbfbfb"/>
<rect x="597" y="407.8" width="18" height="19.7" fill="#fbfbfb"/>
<rect x="616" y="407.8" width="18" height="19.7" fill="#fbfbfb"/>
<rect x="635" y="407.8" width="18" height="19.7" fill="#fbfbfb"/>
<rect x="654" y="407.8" width="18" height="19.7" fill="#fbfbfb"/>
<rect x="673" y="407.8" width="18" height="19.7" fill="#fbfbfb"/>
<rect x="692" y="407.8" width="18" height="19.7" fill="#fbfbfb"/>
<rect x="711" y="407.8" width="18" height="19.7" fill="#fbfbfb"/>
<rect x="730" y="407.8" width="18" height="19.7" fill="#fbfbfb"/>
<rect x="27" y="428.5" width="18" height="19.7" fill="#fbfbfb"/>
<rect x="46" y="428.5" width="18" height="19.7" fill="#fbfbfb"/>
<rect x="65" y="428.5" width="18" height="19.7" fill="#fbfbfb"/>
<rect x="84" y="428.5" width="18" height="19.7" fill="#fbfbfb"/>
<rect x="103" y="428.5" width="18" height="19.7" fill="#fbfbfb"/>
<rect x="122" y="428.5" width="18" height="19.7" fill="#fbfbfb"/>
<rect x="141" y="428.5" width="18" height="19.7" fill="#fbfbfb"/>
<rect x="160" y="428.5" width="18" height="19.7" fill="#fbfbfb"/>
<rect x="179" y="428.5" width="18" height="19.7" fill="#fbfbfb"/>
<rect x="198" y="428.5" width="18" height="19.7" fill="#fbfbfb"/>
<rect x="217" y="428.5" width="18" height="19.7" fill="#fbfbfb"/>
<rect x="236" y="428.5" width="18" height="19.7" fill="#fbfbfb"/>
<rect x="255" y="428.5" width="18" height="19.7" fill="#fbfbfb"/>
<rect x="274" y="428.5" width="18" height="19.7" fill="#fbfbfb"/>
<rect x="293" y="428.5" width="18" height="19.7" fill="#fbfbfb"/>
<rect x="312" y="428.5" width="18" height="19.7" fill="#fbfbfb"/>
<rect x="331" y="428.5" width="18" height="19.7" fill="#fbfbfb"/>
<rect x="350" y="428.5" width="18" height="19.7" fill="#fbfbfb"/>
<rect x="369" y="428.5" width="18" height="19.7" fill="#fbfbfb"/>
<rect x="388" y="428.5" width="18" height="19.7" fill="#fbfbfb"/>
<rect x="407" y="428.5" width="18" height="19.7" fill="#fbfbfb"/>
<rect x="426" y="428.5" width="18" height="19.7" fill="#fbfbfb"/>
<rect x="445" y="428.5" width="18" height="19.7" fill="#fbfbfb"/>
<rect x="464" y="428.5" width="18" height="19.7" fill="#fbfbfb"/>
<rect x="483" y="428.5" width="18" height="19.7" fill="#fbfbfb"/>
<rect x="502" y="428.5" width="18" height="19.7" fill="#fbfbfb"/>
<rect x="521" y="428.5" width="18" height="19.7" fill="#fbfbfb"/>
<rect x="540" y="428.5" width="18" height="19.7" fill="#fbfbfb"/>
<rect x="559" y="428.5" width="18" height="19.7" fill="#fbfbfb"/>
<rect x="578" y="428.5" width="18" height="19.7" fill="#fbfbfb"/>
<rect x="597" y="428.5" width="18" height="19.7" fill="#fbfbfb"/>
<rect x="616" y="428.5" width="18" height="19.7" fill="#fbfbfb"/>
<rect x="635" y="428.5" width="18" height="19.7" fill="#fbfbfb"/>
<rect x="654" y="428.5" width="18" height="19.7" fill="#fbfbfb"/>
<rect x="673" y="428.5" width="18" height="19.7" fill="#fbfbfb"/>
<rect x="692" y="428.5" width="18" height="19.7" fill="#fbfbfb"/>
<rect x="711" y="428.5" width="18" height="19.7" fill="#fbfbfb"/>
<rect x="730" y="428.5" width="18" height="19.7" fill="#fbfbfb"/>
<text x="37.0" y="338" font-size="9.5" fill="#555" text-anchor="middle" stroke="#555" stroke-width="0.22">01</text>
<text x="56.0" y="338" font-size="9.5" fill="#555" text-anchor="middle" stroke="#555" stroke-width="0.22">02</text>
<text x="75.0" y="338" font-size="9.5" fill="#555" text-anchor="middle" stroke="#555" stroke-width="0.22">03</text>
<text x="94.0" y="338" font-size="9.5" fill="#555" text-anchor="middle" stroke="#555" stroke-width="0.22">04</text>
<text x="113.0" y="338" font-size="9.5" fill="#555" text-anchor="middle" stroke="#555" stroke-width="0.22">05</text>
<text x="132.0" y="338" font-size="9.5" fill="#555" text-anchor="middle" stroke="#555" stroke-width="0.22">06</text>
<text x="151.0" y="338" font-size="9.5" fill="#555" text-anchor="middle" stroke="#555" stroke-width="0.22">07</text>
<text x="170.0" y="338" font-size="9.5" fill="#555" text-anchor="middle" stroke="#555" stroke-width="0.22">08</text>
<text x="189.0" y="338" font-size="9.5" fill="#555" text-anchor="middle" stroke="#555" stroke-width="0.22">09</text>
<text x="208.0" y="338" font-size="9.5" fill="#555" text-anchor="middle" stroke="#555" stroke-width="0.22">10</text>
<text x="227.0" y="338" font-size="9.5" fill="#555" text-anchor="middle" stroke="#555" stroke-width="0.22">11</text>
<text x="246.0" y="338" font-size="9.5" fill="#555" text-anchor="middle" stroke="#555" stroke-width="0.22">12</text>
<text x="265.0" y="338" font-size="9.5" fill="#555" text-anchor="middle" stroke="#555" stroke-width="0.22">13</text>
<text x="284.0" y="338" font-size="9.5" fill="#555" text-anchor="middle" stroke="#555" stroke-width="0.22">14</text>
<text x="303.0" y="338" font-size="9.5" fill="#555" text-anchor="middle" stroke="#555" stroke-width="0.22">15</text>
<text x="322.0" y="338" font-size="9.5" fill="#555" text-anchor="middle" stroke="#555" stroke-width="0.22">16</text>
<text x="341.0" y="338" font-size="9.5" fill="#555" text-anchor="middle" stroke="#555" stroke-width="0.22">17</text>
<text x="360.0" y="338" font-size="9.5" fill="#555" text-anchor="middle" stroke="#555" stroke-width="0.22">18</text>
<text x="379.0" y="338" font-size="9.5" fill="#555" text-anchor="middle" stroke="#555" stroke-width="0.22">19</text>
<text x="398.0" y="338" font-size="9.5" fill="#555" text-anchor="middle" stroke="#555" stroke-width="0.22">20</text>
<text x="417.0" y="338" font-size="9.5" fill="#555" text-anchor="middle" stroke="#555" stroke-width="0.22">21</text>
<text x="436.0" y="338" font-size="9.5" fill="#555" text-anchor="middle" stroke="#555" stroke-width="0.22">22</text>
<text x="455.0" y="338" font-size="9.5" fill="#555" text-anchor="middle" stroke="#555" stroke-width="0.22">23</text>
<text x="474.0" y="338" font-size="9.5" fill="#555" text-anchor="middle" stroke="#555" stroke-width="0.22">24</text>
<text x="493.0" y="338" font-size="9.5" fill="#555" text-anchor="middle" stroke="#555" stroke-width="0.22">25</text>
<text x="512.0" y="338" font-size="9.5" fill="#555" text-anchor="middle" stroke="#555" stroke-width="0.22">26</text>
<text x="531.0" y="338" font-size="9.5" fill="#555" text-anchor="middle" stroke="#555" stroke-width="0.22">27</text>
<text x="550.0" y="338" font-size="9.5" fill="#555" text-anchor="middle" stroke="#555" stroke-width="0.22">28</text>
<text x="569.0" y="338" font-size="9.5" fill="#555" text-anchor="middle" stroke="#555" stroke-width="0.22">29</text>
<text x="588.0" y="338" font-size="9.5" fill="#555" text-anchor="middle" stroke="#555" stroke-width="0.22">30</text>
<text x="607.0" y="338" font-size="9.5" fill="#555" text-anchor="middle" stroke="#555" stroke-width="0.22">31</text>
<text x="626.0" y="338" font-size="9.5" fill="#555" text-anchor="middle" stroke="#555" stroke-width="0.22">32</text>
<text x="645.0" y="338" font-size="9.5" fill="#555" text-anchor="middle" stroke="#555" stroke-width="0.22">33</text>
<text x="664.0" y="338" font-size="9.5" fill="#555" text-anchor="middle" stroke="#555" stroke-width="0.22">34</text>
<text x="683.0" y="338" font-size="9.5" fill="#555" text-anchor="middle" stroke="#555" stroke-width="0.22">35</text>
<text x="702.0" y="338" font-size="9.5" fill="#555" text-anchor="middle" stroke="#555" stroke-width="0.22">36</text>
<text x="721.0" y="338" font-size="9.5" fill="#555" text-anchor="middle" stroke="#555" stroke-width="0.22">37</text>
<rect x="731" y="325" width="18" height="19" fill="#90d8f3"/>
<text x="740.0" y="338.6" font-size="10.6" fill="#2e5a6e" stroke="#2e5a6e" stroke-width="0.2" text-anchor="middle">38</text>
<path d="M37.00,349.60 C38.72,351.87 41.90,353.65 41.90,357.70 A4.90,4.90 0 0,1 32.10,357.70 C32.10,353.65 35.28,351.87 37.00,349.60 Z" fill="#e9373f"/>
<path d="M56.00,349.60 C57.72,351.87 60.90,353.65 60.90,357.70 A4.90,4.90 0 0,1 51.10,357.70 C51.10,353.65 54.28,351.87 56.00,349.60 Z" fill="#e9373f"/>
<path d="M75.00,349.60 C76.72,351.87 79.90,353.65 79.90,357.70 A4.90,4.90 0 0,1 70.10,357.70 C70.10,353.65 73.28,351.87 75.00,349.60 Z" fill="#e9373f"/>
<path d="M94.00,351.60 C95.08,353.25 97.10,354.55 97.10,357.50 A3.10,3.10 0 0,1 90.90,357.50 C90.90,354.55 92.92,353.25 94.00,351.60 Z" fill="#e9373f"/>
<path d="M113.00,351.60 C114.08,353.25 116.10,354.55 116.10,357.50 A3.10,3.10 0 0,1 109.90,357.50 C109.90,354.55 111.92,353.25 113.00,351.60 Z" fill="#e9373f"/>
<circle cx="170.0" cy="355.7" r="6.3" fill="#fffef4" stroke="#e3cf70" stroke-width="1"/>
<circle cx="246.0" cy="355.7" r="6.3" fill="#fffef4" stroke="#e3cf70" stroke-width="1"/>
<circle cx="265.0" cy="355.7" r="6.3" fill="#fffef4" stroke="#e3cf70" stroke-width="1"/>
<circle cx="284.0" cy="355.7" r="6.3" fill="#fffef4" stroke="#e3cf70" stroke-width="1"/>
<circle cx="303.0" cy="355.7" r="6.3" fill="#fffef4" stroke="#e3cf70" stroke-width="1"/>
<circle cx="322.0" cy="355.7" r="6.3" fill="#fffef4" stroke="#e3cf70" stroke-width="1"/>
<circle cx="360.0" cy="355.7" r="6.3" fill="#fffef4" stroke="#e3cf70" stroke-width="1"/>
<circle cx="398.0" cy="355.7" r="6.3" fill="#fffef4" stroke="#e3cf70" stroke-width="1"/>
<circle cx="417.0" cy="355.7" r="6.3" fill="#fffef4" stroke="#e3cf70" stroke-width="1"/>
<circle cx="455.0" cy="355.7" r="6.3" fill="#fffef4" stroke="#e3cf70" stroke-width="1"/>
<circle cx="379.0" cy="355.7" r="7" fill="#f6d33c"/>
<rect x="582.0" y="369.2" width="3.8" height="13.6" rx="1.9" fill="#8cb02c"/><rect x="590.2" y="369.2" width="3.8" height="13.6" rx="1.9" fill="#d6dfb4"/>
<rect x="601.0" y="369.2" width="3.8" height="13.6" rx="1.9" fill="#8cb02c"/><rect x="609.2" y="369.2" width="3.8" height="13.6" rx="1.9" fill="#d6dfb4"/>
<rect x="620.0" y="369.2" width="3.8" height="13.6" rx="1.9" fill="#8cb02c"/><rect x="628.2" y="369.2" width="3.8" height="13.6" rx="1.9" fill="#8cb02c"/>
<rect x="639.0" y="369.2" width="3.8" height="13.6" rx="1.9" fill="#8cb02c"/><rect x="647.2" y="369.2" width="3.8" height="13.6" rx="1.9" fill="#8cb02c"/>
<rect x="677.0" y="369.2" width="3.8" height="13.6" rx="1.9" fill="#8cb02c"/><rect x="685.2" y="369.2" width="3.8" height="13.6" rx="1.9" fill="#8cb02c"/>
<path transform="translate(94.0,397.3) scale(1.0)" d="M0,5.2 C-0.9,5.2 -6,2 -6,-1.8 C-6,-4.3 -4.4,-5.6 -3,-5.6 C-1.5,-5.6 -0.5,-4.6 0,-3.8 C0.5,-4.6 1.5,-5.6 3,-5.6 C4.4,-5.6 6,-4.3 6,-1.8 C6,2 0.9,5.2 0,5.2 Z" fill="#ef50a8"/>
<path transform="translate(113.0,397.3) scale(1.0)" d="M0,5.2 C-0.9,5.2 -6,2 -6,-1.8 C-6,-4.3 -4.4,-5.6 -3,-5.6 C-1.5,-5.6 -0.5,-4.6 0,-3.8 C0.5,-4.6 1.5,-5.6 3,-5.6 C4.4,-5.6 6,-4.3 6,-1.8 C6,2 0.9,5.2 0,5.2 Z" fill="#ef50a8"/>
<path transform="translate(151.0,397.3) scale(1.0)" d="M0,5.2 C-0.9,5.2 -6,2 -6,-1.8 C-6,-4.3 -4.4,-5.6 -3,-5.6 C-1.5,-5.6 -0.5,-4.6 0,-3.8 C0.5,-4.6 1.5,-5.6 3,-5.6 C4.4,-5.6 6,-4.3 6,-1.8 C6,2 0.9,5.2 0,5.2 Z" fill="#ef50a8"/>
<path transform="translate(170.0,397.3) scale(1.0)" d="M0,5.2 C-0.9,5.2 -6,2 -6,-1.8 C-6,-4.3 -4.4,-5.6 -3,-5.6 C-1.5,-5.6 -0.5,-4.6 0,-3.8 C0.5,-4.6 1.5,-5.6 3,-5.6 C4.4,-5.6 6,-4.3 6,-1.8 C6,2 0.9,5.2 0,5.2 Z" fill="#ef50a8"/>
<path transform="translate(189.0,397.3) scale(1.0)" d="M0,5.2 C-0.9,5.2 -6,2 -6,-1.8 C-6,-4.3 -4.4,-5.6 -3,-5.6 C-1.5,-5.6 -0.5,-4.6 0,-3.8 C0.5,-4.6 1.5,-5.6 3,-5.6 C4.4,-5.6 6,-4.3 6,-1.8 C6,2 0.9,5.2 0,5.2 Z" fill="#ef50a8"/>
<path transform="translate(227.0,397.3) scale(1.0)" d="M0,5.2 C-0.9,5.2 -6,2 -6,-1.8 C-6,-4.3 -4.4,-5.6 -3,-5.6 C-1.5,-5.6 -0.5,-4.6 0,-3.8 C0.5,-4.6 1.5,-5.6 3,-5.6 C4.4,-5.6 6,-4.3 6,-1.8 C6,2 0.9,5.2 0,5.2 Z" fill="#ef50a8"/>
<path transform="translate(246.0,397.3) scale(1.0)" d="M0,5.2 C-0.9,5.2 -6,2 -6,-1.8 C-6,-4.3 -4.4,-5.6 -3,-5.6 C-1.5,-5.6 -0.5,-4.6 0,-3.8 C0.5,-4.6 1.5,-5.6 3,-5.6 C4.4,-5.6 6,-4.3 6,-1.8 C6,2 0.9,5.2 0,5.2 Z" fill="#ef50a8"/>
<path transform="translate(284.0,397.3) scale(1.0)" d="M0,5.2 C-0.9,5.2 -6,2 -6,-1.8 C-6,-4.3 -4.4,-5.6 -3,-5.6 C-1.5,-5.6 -0.5,-4.6 0,-3.8 C0.5,-4.6 1.5,-5.6 3,-5.6 C4.4,-5.6 6,-4.3 6,-1.8 C6,2 0.9,5.2 0,5.2 Z" fill="#ef50a8"/>
<path transform="translate(303.0,397.3) scale(1.0)" d="M0,5.2 C-0.9,5.2 -6,2 -6,-1.8 C-6,-4.3 -4.4,-5.6 -3,-5.6 C-1.5,-5.6 -0.5,-4.6 0,-3.8 C0.5,-4.6 1.5,-5.6 3,-5.6 C4.4,-5.6 6,-4.3 6,-1.8 C6,2 0.9,5.2 0,5.2 Z" fill="#ef50a8"/>
<path transform="translate(341.0,397.3) scale(1.0)" d="M0,5.2 C-0.9,5.2 -6,2 -6,-1.8 C-6,-4.3 -4.4,-5.6 -3,-5.6 C-1.5,-5.6 -0.5,-4.6 0,-3.8 C0.5,-4.6 1.5,-5.6 3,-5.6 C4.4,-5.6 6,-4.3 6,-1.8 C6,2 0.9,5.2 0,5.2 Z" fill="#ef50a8"/>
<path transform="translate(360.0,397.3) scale(1.0)" d="M0,5.2 C-0.9,5.2 -6,2 -6,-1.8 C-6,-4.3 -4.4,-5.6 -3,-5.6 C-1.5,-5.6 -0.5,-4.6 0,-3.8 C0.5,-4.6 1.5,-5.6 3,-5.6 C4.4,-5.6 6,-4.3 6,-1.8 C6,2 0.9,5.2 0,5.2 Z" fill="#ef50a8"/>
<path transform="translate(379.0,397.3) scale(1.0)" d="M0,5.2 C-0.9,5.2 -6,2 -6,-1.8 C-6,-4.3 -4.4,-5.6 -3,-5.6 C-1.5,-5.6 -0.5,-4.6 0,-3.8 C0.5,-4.6 1.5,-5.6 3,-5.6 C4.4,-5.6 6,-4.3 6,-1.8 C6,2 0.9,5.2 0,5.2 Z" fill="#ef50a8"/>
<path transform="translate(398.0,397.3) scale(1.0)" d="M0,5.2 C-0.9,5.2 -6,2 -6,-1.8 C-6,-4.3 -4.4,-5.6 -3,-5.6 C-1.5,-5.6 -0.5,-4.6 0,-3.8 C0.5,-4.6 1.5,-5.6 3,-5.6 C4.4,-5.6 6,-4.3 6,-1.8 C6,2 0.9,5.2 0,5.2 Z" fill="#ef50a8"/>
<path transform="translate(455.0,397.3) scale(1.0)" d="M0,5.2 C-0.9,5.2 -6,2 -6,-1.8 C-6,-4.3 -4.4,-5.6 -3,-5.6 C-1.5,-5.6 -0.5,-4.6 0,-3.8 C0.5,-4.6 1.5,-5.6 3,-5.6 C4.4,-5.6 6,-4.3 6,-1.8 C6,2 0.9,5.2 0,5.2 Z" fill="#ef50a8"/>
<path transform="translate(512.0,397.3) scale(1.0)" d="M0,5.2 C-0.9,5.2 -6,2 -6,-1.8 C-6,-4.3 -4.4,-5.6 -3,-5.6 C-1.5,-5.6 -0.5,-4.6 0,-3.8 C0.5,-4.6 1.5,-5.6 3,-5.6 C4.4,-5.6 6,-4.3 6,-1.8 C6,2 0.9,5.2 0,5.2 Z" fill="#ef50a8"/>
<path transform="translate(531.0,397.3) scale(1.0)" d="M0,5.2 C-0.9,5.2 -6,2 -6,-1.8 C-6,-4.3 -4.4,-5.6 -3,-5.6 C-1.5,-5.6 -0.5,-4.6 0,-3.8 C0.5,-4.6 1.5,-5.6 3,-5.6 C4.4,-5.6 6,-4.3 6,-1.8 C6,2 0.9,5.2 0,5.2 Z" fill="#ef50a8"/>
<circle cx="588.0" cy="418" r="6.8" fill="#c3c3c3"/><line x1="585.2" y1="421.2" x2="590.8" y2="414.8" stroke="#fff" stroke-width="2" stroke-linecap="round"/>
<circle cx="607.0" cy="418" r="6.8" fill="#c3c3c3"/><line x1="604.2" y1="421.2" x2="609.8" y2="414.8" stroke="#fff" stroke-width="2" stroke-linecap="round"/>
<circle cx="626.0" cy="418" r="6.8" fill="#c3c3c3"/><line x1="623.2" y1="421.2" x2="628.8" y2="414.8" stroke="#fff" stroke-width="2" stroke-linecap="round"/>
<circle cx="645.0" cy="418" r="6.8" fill="#c3c3c3"/><line x1="642.2" y1="421.2" x2="647.8" y2="414.8" stroke="#fff" stroke-width="2" stroke-linecap="round"/>
<circle cx="664.0" cy="418" r="6.8" fill="#c3c3c3"/><line x1="661.2" y1="421.2" x2="666.8" y2="414.8" stroke="#fff" stroke-width="2" stroke-linecap="round"/>
<circle cx="683.0" cy="418" r="6.8" fill="#c3c3c3"/><line x1="680.2" y1="421.2" x2="685.8" y2="414.8" stroke="#fff" stroke-width="2" stroke-linecap="round"/>
<circle cx="702.0" cy="418" r="6.8" fill="#c3c3c3"/><line x1="699.2" y1="421.2" x2="704.8" y2="414.8" stroke="#fff" stroke-width="2" stroke-linecap="round"/>
<circle cx="721.0" cy="418" r="6.8" fill="#c3c3c3"/><line x1="718.2" y1="421.2" x2="723.8" y2="414.8" stroke="#fff" stroke-width="2" stroke-linecap="round"/>
<circle cx="740.0" cy="418" r="6.8" fill="#c3c3c3"/><line x1="737.2" y1="421.2" x2="742.8" y2="414.8" stroke="#fff" stroke-width="2" stroke-linecap="round"/>
<path d="M146.9,433 H155.1 V434.7 C152.2,435.4 151.75,437.8 151.75,439 C151.75,440.2 152.2,442.6 155.1,443.3 V445 H146.9 V443.3 C149.8,442.6 150.25,440.2 150.25,439 C150.25,437.8 149.8,435.4 146.9,434.7 Z" fill="#82c1dc"/>
<path d="M165.9,433 H174.1 V434.7 C171.2,435.4 170.75,437.8 170.75,439 C170.75,440.2 171.2,442.6 174.1,443.3 V445 H165.9 V443.3 C168.8,442.6 169.25,440.2 169.25,439 C169.25,437.8 168.8,435.4 165.9,434.7 Z" fill="#82c1dc"/>
<path d="M184.9,433 H193.1 V434.7 C190.2,435.4 189.75,437.8 189.75,439 C189.75,440.2 190.2,442.6 193.1,443.3 V445 H184.9 V443.3 C187.8,442.6 188.25,440.2 188.25,439 C188.25,437.8 187.8,435.4 184.9,434.7 Z" fill="#82c1dc"/>
<path d="M203.9,433 H212.1 V434.7 C209.2,435.4 208.75,437.8 208.75,439 C208.75,440.2 209.2,442.6 212.1,443.3 V445 H203.9 V443.3 C206.8,442.6 207.25,440.2 207.25,439 C207.25,437.8 206.8,435.4 203.9,434.7 Z" fill="#82c1dc"/>
<path d="M222.4,432.7 C226.0,433.3 230.7,436.4 230.7,441 A3.85,3.85 0 0,1 223.0,441 C223.0,439.2 224.1,438.0 225.3,437.2 C224.6,435.6 223.7,433.7 222.4,432.7 Z" fill="#6fb6e3"/>
<path d="M241.9,433 H250.1 V434.7 C247.2,435.4 246.75,437.8 246.75,439 C246.75,440.2 247.2,442.6 250.1,443.3 V445 H241.9 V443.3 C244.8,442.6 245.25,440.2 245.25,439 C245.25,437.8 244.8,435.4 241.9,434.7 Z" fill="#82c1dc"/>
<path d="M260.9,433 H269.1 V434.7 C266.2,435.4 265.75,437.8 265.75,439 C265.75,440.2 266.2,442.6 269.1,443.3 V445 H260.9 V443.3 C263.8,442.6 264.25,440.2 264.25,439 C264.25,437.8 263.8,435.4 260.9,434.7 Z" fill="#82c1dc"/>
<path d="M284.00,432.50 C284.40,436.35 288.90,436.84 289.00,439.50 A5.00,5.00 0 0,1 279.00,439.50 C279.10,436.84 283.60,436.35 284.00,432.50 Z" fill="#6fb6e3"/>
<path d="M303.00,433.20 C303.37,436.83 307.51,437.29 307.60,439.80 A4.60,4.60 0 0,1 298.40,439.80 C298.49,437.29 302.63,436.83 303.00,433.20 Z" fill="none" stroke="#90a3b0" stroke-width="1"/>
<path d="M317.9,433 H326.1 V434.7 C323.2,435.4 322.75,437.8 322.75,439 C322.75,440.2 323.2,442.6 326.1,443.3 V445 H317.9 V443.3 C320.8,442.6 321.25,440.2 321.25,439 C321.25,437.8 320.8,435.4 317.9,434.7 Z" fill="#82c1dc"/>
<path d="M360.0,432.8 C363.0,432.8 364.9,436.09999999999997 364.9,439.3 C364.9,442.3 362.9,444.59999999999997 360.0,444.59999999999997 C357.1,444.59999999999997 355.1,442.3 355.1,439.3 C355.1,436.09999999999997 357.0,432.8 360.0,432.8 Z" fill="#6fb6e3"/>
<path d="M379.0,432.8 C382.0,432.8 383.9,436.09999999999997 383.9,439.3 C383.9,442.3 381.9,444.59999999999997 379.0,444.59999999999997 C376.1,444.59999999999997 374.1,442.3 374.1,439.3 C374.1,436.09999999999997 376.0,432.8 379.0,432.8 Z" fill="#6fb6e3"/>
<path d="M398.00,432.50 C398.40,436.35 402.90,436.84 403.00,439.50 A5.00,5.00 0 0,1 393.00,439.50 C393.10,436.84 397.60,436.35 398.00,432.50 Z" fill="#6fb6e3"/>
<path d="M417.0,432.8 C420.0,432.8 421.9,436.09999999999997 421.9,439.3 C421.9,442.3 419.9,444.59999999999997 417.0,444.59999999999997 C414.1,444.59999999999997 412.1,442.3 412.1,439.3 C412.1,436.09999999999997 414.0,432.8 417.0,432.8 Z" fill="#6fb6e3"/>
<path d="M436.00,432.50 C436.40,436.35 440.90,436.84 441.00,439.50 A5.00,5.00 0 0,1 431.00,439.50 C431.10,436.84 435.60,436.35 436.00,432.50 Z" fill="#6fb6e3"/>
<path d="M450.4,432.7 C454.0,433.3 458.7,436.4 458.7,441 A3.85,3.85 0 0,1 451.0,441 C451.0,439.2 452.1,438.0 453.3,437.2 C452.6,435.6 451.7,433.7 450.4,432.7 Z" fill="#6fb6e3"/>
<path d="M469.9,433 H478.1 V434.7 C475.2,435.4 474.75,437.8 474.75,439 C474.75,440.2 475.2,442.6 478.1,443.3 V445 H469.9 V443.3 C472.8,442.6 473.25,440.2 473.25,439 C473.25,437.8 472.8,435.4 469.9,434.7 Z" fill="#82c1dc"/>
<path d="M488.4,432.7 C492.0,433.3 496.7,436.4 496.7,441 A3.85,3.85 0 0,1 489.0,441 C489.0,439.2 490.1,438.0 491.3,437.2 C490.6,435.6 489.7,433.7 488.4,432.7 Z" fill="#6fb6e3"/>
<path d="M512.00,432.50 C512.40,436.35 516.90,436.84 517.00,439.50 A5.00,5.00 0 0,1 507.00,439.50 C507.10,436.84 511.60,436.35 512.00,432.50 Z" fill="#6fb6e3"/>
<path d="M531.00,432.50 C531.40,436.35 535.90,436.84 536.00,439.50 A5.00,5.00 0 0,1 526.00,439.50 C526.10,436.84 530.60,436.35 531.00,432.50 Z" fill="#6fb6e3"/>
<path d="M550.00,433.20 C550.37,436.83 554.51,437.29 554.60,439.80 A4.60,4.60 0 0,1 545.40,439.80 C545.49,437.29 549.63,436.83 550.00,433.20 Z" fill="none" stroke="#90a3b0" stroke-width="1"/>
<path d="M602.4,432.7 C606.0,433.3 610.7,436.4 610.7,441 A3.85,3.85 0 0,1 603.0,441 C603.0,439.2 604.1,438.0 605.3,437.2 C604.6,435.6 603.7,433.7 602.4,432.7 Z" fill="#6fb6e3"/>
<text x="37.0" y="463" font-size="9.5" fill="#555" text-anchor="middle" stroke="#555" stroke-width="0.22">11</text>
<text x="56.0" y="463" font-size="9.5" fill="#555" text-anchor="middle" stroke="#555" stroke-width="0.22">12</text>
<text x="75.0" y="463" font-size="9.5" fill="#555" text-anchor="middle" stroke="#555" stroke-width="0.22">13</text>
<text x="94.0" y="463" font-size="9.5" fill="#555" text-anchor="middle" stroke="#555" stroke-width="0.22">14</text>
<text x="113.0" y="463" font-size="9.5" fill="#555" text-anchor="middle" stroke="#555" stroke-width="0.22">15</text>
<text x="132.0" y="463" font-size="9.5" fill="#d2436b" text-anchor="middle" stroke="#d2436b" stroke-width="0.22">16</text>
<text x="151.0" y="463" font-size="9.5" fill="#d2436b" text-anchor="middle" stroke="#d2436b" stroke-width="0.22">17</text>
<text x="170.0" y="463" font-size="9.5" fill="#555" text-anchor="middle" stroke="#555" stroke-width="0.22">18</text>
<text x="189.0" y="463" font-size="9.5" fill="#555" text-anchor="middle" stroke="#555" stroke-width="0.22">19</text>
<text x="208.0" y="463" font-size="9.5" fill="#555" text-anchor="middle" stroke="#555" stroke-width="0.22">20</text>
<text x="227.0" y="463" font-size="9.5" fill="#555" text-anchor="middle" stroke="#555" stroke-width="0.22">21</text>
<text x="246.0" y="463" font-size="9.5" fill="#555" text-anchor="middle" stroke="#555" stroke-width="0.22">22</text>
<text x="265.0" y="463" font-size="9.5" fill="#d2436b" text-anchor="middle" stroke="#d2436b" stroke-width="0.22">23</text>
<text x="284.0" y="463" font-size="9.5" fill="#d2436b" text-anchor="middle" stroke="#d2436b" stroke-width="0.22">24</text>
<text x="303.0" y="463" font-size="9.5" fill="#555" text-anchor="middle" stroke="#555" stroke-width="0.22">25</text>
<text x="322.0" y="463" font-size="9.5" fill="#555" text-anchor="middle" stroke="#555" stroke-width="0.22">26</text>
<text x="341.0" y="463" font-size="9.5" fill="#555" text-anchor="middle" stroke="#555" stroke-width="0.22">27</text>
<text x="360.0" y="463" font-size="9.5" fill="#555" text-anchor="middle" stroke="#555" stroke-width="0.22">28</text>
<text x="379.0" y="463" font-size="9.5" fill="#555" text-anchor="middle" stroke="#555" stroke-width="0.22">29</text>
<text x="398.0" y="463" font-size="9.5" fill="#d2436b" text-anchor="middle" stroke="#d2436b" stroke-width="0.22">30</text>
<text x="417.0" y="463" font-size="9.5" fill="#d2436b" text-anchor="middle" stroke="#d2436b" stroke-width="0.22">31</text>
<text x="436.0" y="463" font-size="9.5" fill="#555" text-anchor="middle" stroke="#555" stroke-width="0.22">01</text>
<text x="455.0" y="463" font-size="9.5" fill="#555" text-anchor="middle" stroke="#555" stroke-width="0.22">02</text>
<text x="474.0" y="463" font-size="9.5" fill="#555" text-anchor="middle" stroke="#555" stroke-width="0.22">03</text>
<text x="493.0" y="463" font-size="9.5" fill="#555" text-anchor="middle" stroke="#555" stroke-width="0.22">04</text>
<text x="512.0" y="463" font-size="9.5" fill="#555" text-anchor="middle" stroke="#555" stroke-width="0.22">05</text>
<text x="531.0" y="463" font-size="9.5" fill="#d2436b" text-anchor="middle" stroke="#d2436b" stroke-width="0.22">06</text>
<text x="550.0" y="463" font-size="9.5" fill="#d2436b" text-anchor="middle" stroke="#d2436b" stroke-width="0.22">07</text>
<text x="569.0" y="463" font-size="9.5" fill="#555" text-anchor="middle" stroke="#555" stroke-width="0.22">08</text>
<text x="588.0" y="463" font-size="9.5" fill="#555" text-anchor="middle" stroke="#555" stroke-width="0.22">09</text>
<text x="607.0" y="463" font-size="9.5" fill="#555" text-anchor="middle" stroke="#555" stroke-width="0.22">10</text>
<text x="626.0" y="463" font-size="9.5" fill="#555" text-anchor="middle" stroke="#555" stroke-width="0.22">11</text>
<text x="645.0" y="463" font-size="9.5" fill="#555" text-anchor="middle" stroke="#555" stroke-width="0.22">12</text>
<text x="664.0" y="463" font-size="9.5" fill="#d2436b" text-anchor="middle" stroke="#d2436b" stroke-width="0.22">13</text>
<text x="683.0" y="463" font-size="9.5" fill="#d2436b" text-anchor="middle" stroke="#d2436b" stroke-width="0.22">14</text>
<text x="702.0" y="463" font-size="9.5" fill="#555" text-anchor="middle" stroke="#555" stroke-width="0.22">15</text>
<text x="721.0" y="463" font-size="9.5" fill="#555" text-anchor="middle" stroke="#555" stroke-width="0.22">16</text>
<rect x="731" y="449" width="18" height="19" fill="#90d8f3"/>
<path d="M738.0,468 L740.0,466 L742.0,468 Z" fill="#fff"/>
<text x="740.0" y="461.8" font-size="10.6" fill="#2e5a6e" stroke="#2e5a6e" stroke-width="0.2" text-anchor="middle">17</text>
<line x1="426.5" y1="451" x2="426.5" y2="480" stroke="#555" stroke-width="1"/>
<line x1="27" y1="480.5" x2="616" y2="480.5" stroke="#eee" stroke-width="1"/>
<text x="28" y="479" font-size="11" fill="#555" textLength="20.3" lengthAdjust="spacingAndGlyphs" stroke="#555" stroke-width="0.22">Май</text>
<text x="431.5" y="479" font-size="11" fill="#555" textLength="25.6" lengthAdjust="spacingAndGlyphs" stroke="#555" stroke-width="0.22">Июнь</text>
<text x="32" y="511.5" font-size="10.4" fill="#262626" font-weight="bold" textLength="68.3" lengthAdjust="spacingAndGlyphs" stroke="#262626" stroke-width="0.12">Менструация</text>
<path d="M38.50,519.90 C40.16,522.10 43.25,523.83 43.25,527.75 A4.75,4.75 0 0,1 33.75,527.75 C33.75,523.83 36.84,522.10 38.50,519.90 Z" fill="#e9373f"/>
<text x="52" y="530.7" font-size="10" fill="#262626" textLength="61.6" lengthAdjust="spacingAndGlyphs" stroke="#262626" stroke-width="0.3">Менструация</text>
<path d="M39.30,544.00 C40.35,545.40 42.30,546.50 42.30,549.00 A3.00,3.00 0 0,1 36.30,549.00 C36.30,546.50 38.25,545.40 39.30,544.00 Z" fill="#e9373f"/>
<text x="52" y="552" font-size="10" fill="#262626" textLength="109.3" lengthAdjust="spacingAndGlyphs" stroke="#262626" stroke-width="0.3">Небольшие выделения</text>
<text x="185.8" y="511.5" font-size="10.4" fill="#262626" font-weight="bold" textLength="91.3" lengthAdjust="spacingAndGlyphs" stroke="#262626" stroke-width="0.12">Тест на овуляцию</text>
<circle cx="192" cy="526.6" r="7" fill="#f6d33c"/>
<text x="205.6" y="530.9" font-size="10" fill="#262626" textLength="76.4" lengthAdjust="spacingAndGlyphs" stroke="#262626" stroke-width="0.3">Положительный</text>
<circle cx="192" cy="547.9" r="6.5" fill="#fffef4" stroke="#e3cf70" stroke-width="1"/>
<text x="205.6" y="552" font-size="10" fill="#262626" textLength="73.4" lengthAdjust="spacingAndGlyphs" stroke="#262626" stroke-width="0.3">Отрицательный</text>
<text x="315.8" y="511.5" font-size="10.4" fill="#262626" font-weight="bold" textLength="114" lengthAdjust="spacingAndGlyphs" stroke="#262626" stroke-width="0.12">Тест на беременность</text>
<rect x="316.4" y="519.2" width="3.8" height="13.6" rx="1.9" fill="#8cb02c"/><rect x="324.59999999999997" y="519.2" width="3.8" height="13.6" rx="1.9" fill="#8cb02c"/>
<text x="335.4" y="531" font-size="10" fill="#262626" textLength="76.6" lengthAdjust="spacingAndGlyphs" stroke="#262626" stroke-width="0.3">Положительный</text>
<rect x="320.5" y="540.4000000000001" width="3.8" height="13.6" rx="1.9" fill="#8cb02c"/>
<text x="335.4" y="551.8" font-size="10" fill="#262626" textLength="74" lengthAdjust="spacingAndGlyphs" stroke="#262626" stroke-width="0.3">Отрицательный</text>
<rect x="316.4" y="561.1" width="3.8" height="13.6" rx="1.9" fill="#8cb02c"/><rect x="324.59999999999997" y="561.1" width="3.8" height="13.6" rx="1.9" fill="#d6dfb4"/>
<text x="335.4" y="571.3" font-size="10" fill="#262626" textLength="103.9" lengthAdjust="spacingAndGlyphs" stroke="#262626" stroke-width="0.3">Слабоположительный</text>
<text x="472" y="511.8" font-size="10.4" fill="#262626" font-weight="bold" textLength="127.2" lengthAdjust="spacingAndGlyphs" stroke="#262626" stroke-width="0.12">Цервикальная жидкость</text>
<path d="M479.00,523.80 C479.35,526.88 483.31,527.27 483.40,529.40 A4.40,4.40 0 0,1 474.60,529.40 C474.69,527.27 478.65,526.88 479.00,523.80 Z" fill="none" stroke="#a9bccb" stroke-width="1"/>
<text x="492.6" y="533" font-size="10" fill="#262626" textLength="22.2" lengthAdjust="spacingAndGlyphs" stroke="#262626" stroke-width="0.3">Сухо</text>
<g transform="translate(480.2,550.2) scale(0.88) translate(-480.2,-550.2)"><path d="M476.09999999999997,544.2 H484.3 V545.9000000000001 C481.4,546.6 480.95,549.0 480.95,550.2 C480.95,551.4000000000001 481.4,553.8000000000001 484.3,554.5 V556.2 H476.09999999999997 V554.5 C479.0,553.8000000000001 479.45,551.4000000000001 479.45,550.2 C479.45,549.0 479.0,546.6 476.09999999999997,545.9000000000001 Z" fill="#82c1dc"/></g>
<text x="492.6" y="553.6" font-size="10" fill="#262626" textLength="38.8" lengthAdjust="spacingAndGlyphs" stroke="#262626" stroke-width="0.3">Клейкая</text>
<path d="M475.2,564.2 C478.8,564.8 483.5,567.9 483.5,572.5 A3.85,3.85 0 0,1 475.8,572.5 C475.8,570.7 476.90000000000003,569.5 478.1,568.7 C477.40000000000003,567.1 476.5,565.2 475.2,564.2 Z" fill="#6fb6e3"/>
<text x="492.6" y="573.6" font-size="10" fill="#262626" textLength="75" lengthAdjust="spacingAndGlyphs" stroke="#262626" stroke-width="0.3">Кремообразная</text>
<path d="M480.00,582.90 C480.36,586.48 484.41,586.93 484.50,589.40 A4.50,4.50 0 0,1 475.50,589.40 C475.59,586.93 479.64,586.48 480.00,582.90 Z" fill="#6fb6e3"/>
<text x="492.6" y="593.5" font-size="10" fill="#262626" textLength="54.8" lengthAdjust="spacingAndGlyphs" stroke="#262626" stroke-width="0.3">Водянистая</text>
<path d="M480,603.6 C483,603.6 484.9,606.9 484.9,610.1 C484.9,613.1 482.9,615.4 480,615.4 C477.1,615.4 475.1,613.1 475.1,610.1 C475.1,606.9 477,603.6 480,603.6 Z" fill="#6fb6e3"/>
<text x="492.6" y="613.6" font-size="10" fill="#262626" textLength="67.1" lengthAdjust="spacingAndGlyphs" stroke="#262626" stroke-width="0.3">Яичный белок</text>
<path transform="translate(37.3,609.6) scale(1.1)" d="M0,5.2 C-0.9,5.2 -6,2 -6,-1.8 C-6,-4.3 -4.4,-5.6 -3,-5.6 C-1.5,-5.6 -0.5,-4.6 0,-3.8 C0.5,-4.6 1.5,-5.6 3,-5.6 C4.4,-5.6 6,-4.3 6,-1.8 C6,2 0.9,5.2 0,5.2 Z" fill="#ef50a8"/>
<text x="51.7" y="613.8" font-size="10" fill="#262626" textLength="59.1" lengthAdjust="spacingAndGlyphs" stroke="#262626" stroke-width="0.3">Половой акт</text>
<circle cx="139" cy="609.5" r="6.8" fill="#c3c3c3"/><line x1="136.2" y1="612.7" x2="141.8" y2="606.3" stroke="#fff" stroke-width="2" stroke-linecap="round"/>
<text x="151.4" y="613.8" font-size="10" fill="#262626" textLength="76.7" lengthAdjust="spacingAndGlyphs" stroke="#262626" stroke-width="0.3">Прием лекарств</text>
<path transform="translate(259,610) scale(1.0)" d="M-2.5,-6.7 A6.8,6.8 0 1,0 6.5,2.5 A7.6,7.6 0 0,1 -2.5,-6.7 Z" fill="#e8912a"/>
<text x="270" y="613.8" font-size="10" fill="#262626" textLength="91.5" lengthAdjust="spacingAndGlyphs" stroke="#262626" stroke-width="0.3">Лунный календарь</text>
<rect x="0" y="0" width="761" height="1" fill="#000"/>
<rect x="758" y="0" width="3" height="619" fill="#000"/>
<rect x="0" y="617" width="761" height="2" fill="#000"/>
</svg>
</body></html>
